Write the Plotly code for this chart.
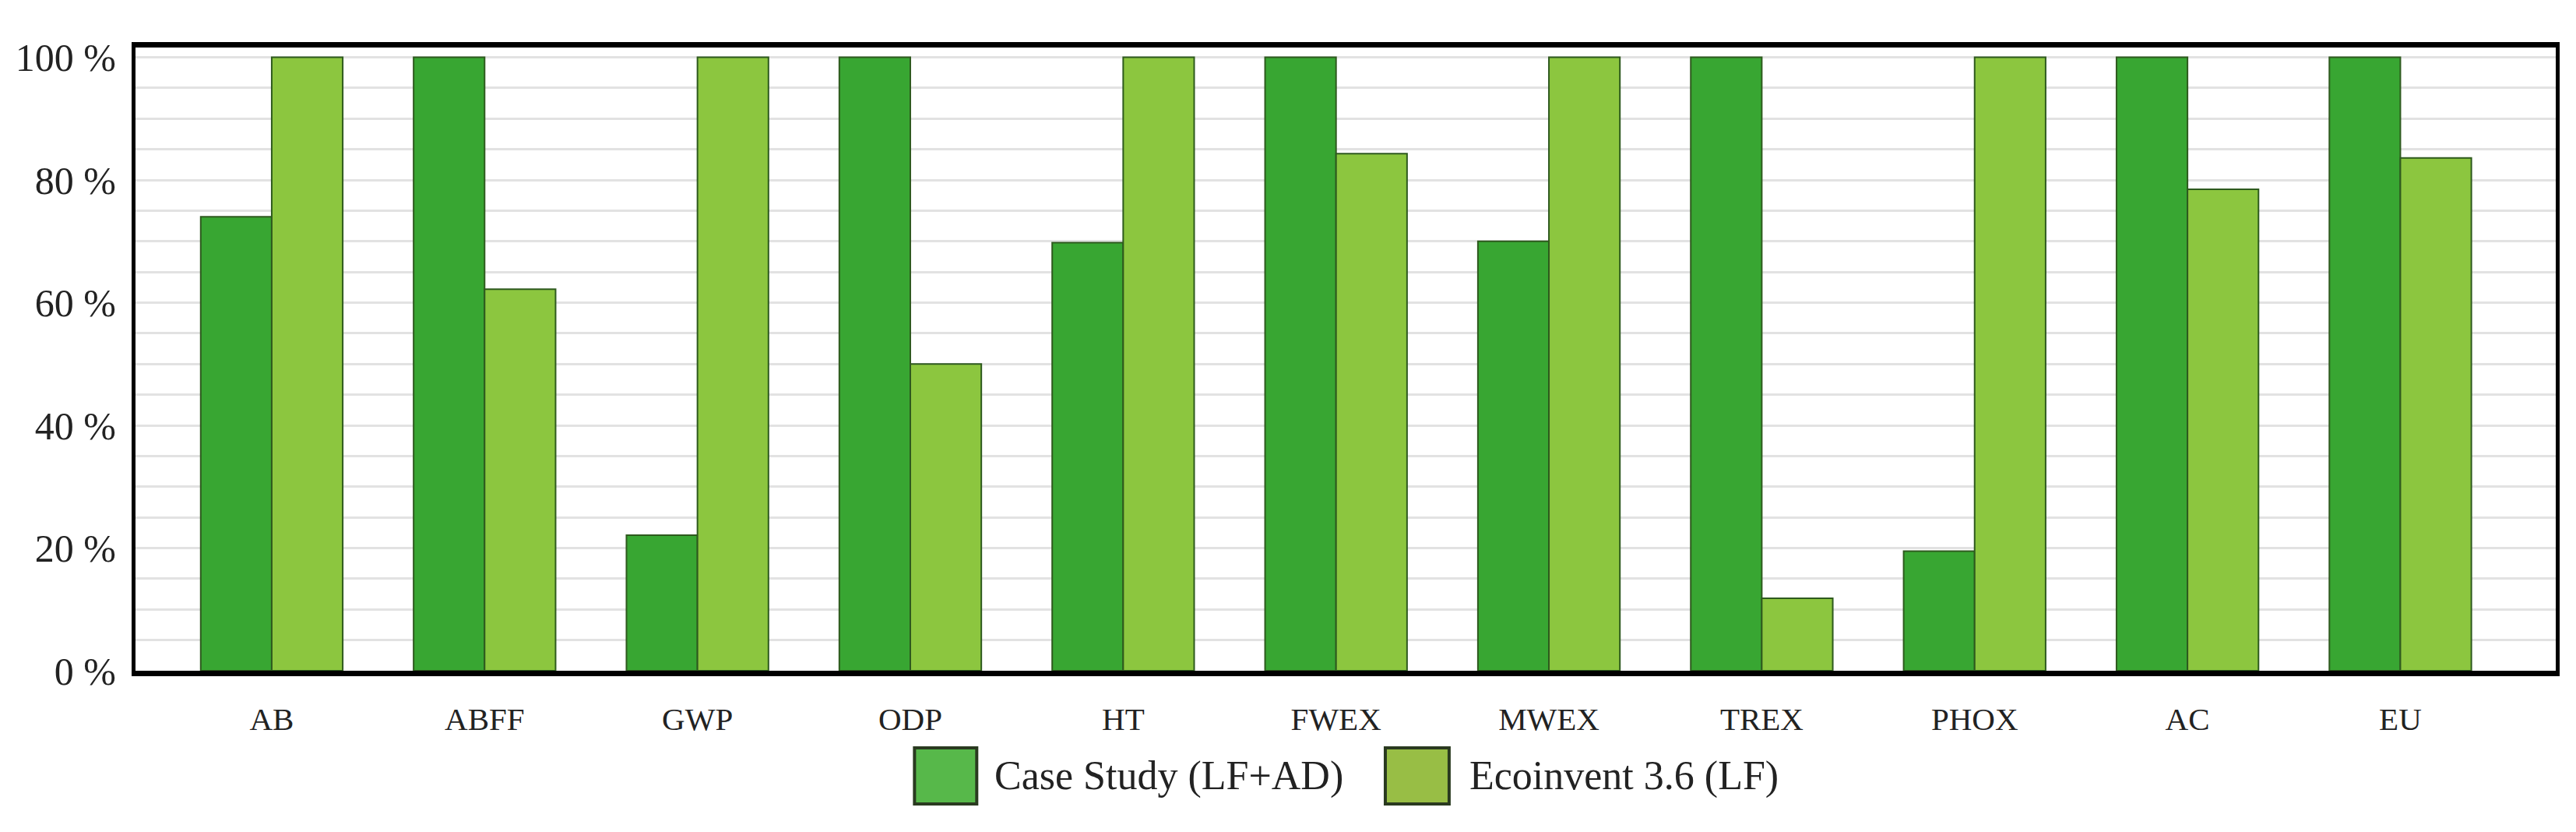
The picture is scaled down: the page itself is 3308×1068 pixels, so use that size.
import plotly.graph_objects as go

categories = ["AB", "ABFF", "GWP", "ODP", "HT", "FWEX", "MWEX", "TREX", "PHOX", "AC", "EU"]
case_study = [74.0, 100, 22.1, 100, 69.8, 100, 70.0, 100, 19.5, 100, 100]
ecoinvent = [100, 62.2, 100, 50.0, 100, 84.3, 100, 11.8, 100, 78.5, 83.6]
series_names = ["Case Study (LF+AD)", "Ecoinvent 3.6 (LF)"]
y_tick_values = [0, 20, 40, 60, 80, 100]
y_tick_labels = ["0 %", "20 %", "40 %", "60 %", "80 %", "100 %"]

W, H = 3308, 1068
ML, MR, MT, MB = 164, 34, 53, 215
PW, PH = W - ML - MR, H - MT - MB

bar_colors = ["#38a632", "#8cc63f"]
legend_colors = ["#57b84a", "#98be45"]
edge = "#2e5a1e"
font_fam = "Liberation Serif, Times New Roman, serif"

fig = go.Figure()
for name, vals, col in zip(series_names, [case_study, ecoinvent], bar_colors):
    fig.add_trace(go.Bar(x=categories, y=vals, name=name, marker=dict(color=col, line=dict(color=edge, width=2)),
                         showlegend=False))

def px(x):
    return (x - ML) / PW

def py(y):
    return (H - MB - y) / PH

# custom legend (large swatches like the reference)
legend_boxes = [(1165, 1245), (1770, 1852)]
legend_text_x = [1266, 1876]
shapes = []
annotations = []
for (x0, x1), tx, col, name in zip(legend_boxes, legend_text_x, legend_colors, series_names):
    shapes.append(dict(type="rect", xref="paper", yref="paper", x0=px(x0), x1=px(x1), y0=py(1024), y1=py(952),
                       fillcolor=col, line=dict(color="#2a3a20", width=4)))
    annotations.append(dict(xref="paper", yref="paper", x=px(tx), y=py(988), text=name, showarrow=False,
                            xanchor="left", yanchor="middle", font=dict(family=font_fam, size=52, color="#222")))

fig.update_layout(
    width=W, height=H,
    margin=dict(l=ML, r=MR, t=MT, b=MB),
    paper_bgcolor="white", plot_bgcolor="white",
    barmode="group", bargap=0.333, bargroupgap=0,
    font=dict(family=font_fam, color="#222"),
    shapes=shapes, annotations=annotations,
    xaxis=dict(range=[-0.64, 10.73], showline=True, linecolor="black", linewidth=7, mirror=True,
               showgrid=False, tickfont=dict(size=41, family=font_fam, color="#222"),
               ticks="", ticklabelstandoff=20),
    yaxis=dict(range=[0, 101.6], tickvals=y_tick_values, ticktext=y_tick_labels,
               showline=True, linecolor="black", linewidth=5, mirror=True,
               showgrid=True, gridcolor="#e2e2e2", gridwidth=3, zeroline=False,
               minor=dict(tickmode="linear", tick0=0, dtick=5, showgrid=True, gridcolor="#e2e2e2", gridwidth=3),
               tickfont=dict(size=50, family=font_fam, color="#222"), ticks="", ticklabelstandoff=10),
)

fig.write_html("out.html")
